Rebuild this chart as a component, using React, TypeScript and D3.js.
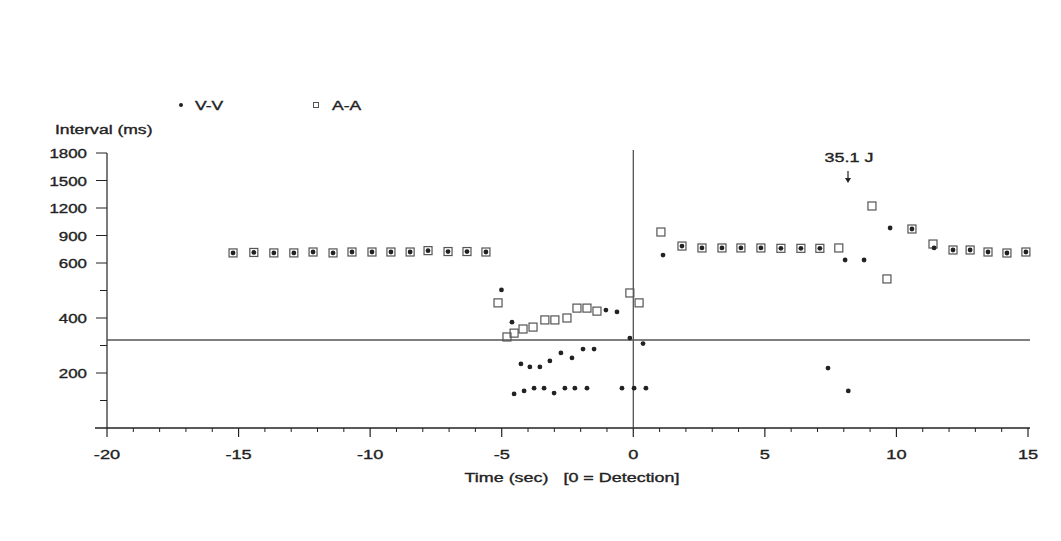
import React from "react";
import * as d3 from "d3";

// ---- Data ----
const xTicksMajor = [-20, -15, -10, -5, 0, 5, 10, 15];
const yTicksMajor = [200, 400, 600, 900, 1200, 1500, 1800];
const yTicksMinor = [100, 300, 500];
const thresholdMs = 320;

const aaTime = [
  -15.21, -14.42, -13.66, -12.9, -12.17, -11.41, -10.69, -9.93, -9.21, -8.48, -7.8, -7.04, -6.32, -5.6,
  -5.14, -4.8, -4.53, -4.19, -3.81, -3.36, -2.98, -2.52, -2.14, -1.76, -1.38, -0.13, 0.22,
  1.05, 1.85, 2.61, 3.37, 4.09, 4.85, 5.61, 6.37, 7.09, 7.81, 9.07, 9.64, 10.59, 11.39,
  12.15, 12.8, 13.48, 14.2, 14.92,
];
const aaValue = [
  710, 715, 710, 710, 720, 710, 720, 720, 720, 720, 735, 725, 725, 720,
  455, 331, 345, 360, 367, 393, 393, 400, 436, 436, 425, 491, 455,
  938, 785, 764, 764, 764, 764, 760, 760, 760, 764, 1222, 542, 971, 807,
  742, 742, 720, 709, 720,
];

const vvTime = [
  -15.21, -14.42, -13.66, -12.9, -12.17, -11.41, -10.69, -9.93, -9.21, -8.48, -7.8, -7.04, -6.32, -5.6,
  -5.01, -4.61, -4.27, -3.93, -3.55, -3.17, -2.75, -2.33, -1.91, -1.49,
  -4.53, -4.15, -3.77, -3.39, -3.01, -2.6, -2.22, -1.76, -0.43, 0.03, 0.48,
  -0.13, 0.37, -1.04, -0.62,
  1.13, 1.85, 2.61, 3.37, 4.09, 4.85, 5.61, 6.37, 7.09, 8.05, 8.77, 9.76, 10.59, 11.43,
  12.15, 12.8, 13.48, 14.2, 14.92, 7.4, 8.17,
];
const vvValue = [
  710, 715, 710, 710, 720, 710, 720, 720, 720, 720, 735, 725, 725, 720,
  502, 385, 233, 222, 222, 244, 273, 255, 287, 287,
  124, 135, 145, 145, 127, 145, 145, 145, 145, 145, 145,
  327, 307, 429, 422,
  687, 785, 764, 764, 764, 764, 760, 760, 760, 633, 633, 982, 971, 764,
  742, 742, 720, 709, 720, 218, 135,
];

const ink = "#222";
const font = "'Liberation Sans', Arial, sans-serif";

function Txt({ x, y, anchor = "start", size = 13, sx = 1.35, children }: any) {
  return (
    <text
      transform={`translate(${x},${y}) scale(${sx},1)`}
      textAnchor={anchor}
      fontSize={size}
      fontFamily={font}
      fill={ink}
      stroke={ink}
      strokeWidth={0.35}
      style={{ whiteSpace: "pre" }}
    >
      {children}
    </text>
  );
}

export default function App() {
  const x = d3.scaleLinear().domain([-20, 15]).range([107, 1028]);
  // piecewise linear y axis as in the original
  const y = d3.scaleLinear().domain([0, 600, 1800]).range([428, 263, 153]);
  const xMinor = d3.range(-20, 16, 1).filter((v) => !xTicksMajor.includes(v));

  return (
    <svg
      width={1061}
      height={541}
      style={{ position: "absolute", left: 0, top: 0, background: "#fff" }}
    >
      {/* legend */}
      <circle cx={181} cy={105} r={2} fill={ink} />
      <Txt x={195} y={110} size={12.5} sx={1.4}>V-V</Txt>
      <rect x={313.5} y={102.5} width={5} height={5} fill="none" stroke="#555" strokeWidth={1} />
      <Txt x={332} y={110} size={12.5} sx={1.4}>A-A</Txt>

      {/* y axis title */}
      <Txt x={55} y={134} size={13} sx={1.35}>Interval (ms)</Txt>

      {/* axes */}
      <line x1={107} x2={107} y1={y(1800)} y2={y(0)} stroke={ink} strokeWidth={1.2} />
      <line x1={95} x2={1030} y1={y(0)} y2={y(0)} stroke={ink} strokeWidth={1.4} />
      {yTicksMajor.map((t) => (
        <g key={"ym" + t}>
          <line x1={96} x2={107} y1={y(t)} y2={y(t)} stroke={ink} strokeWidth={1} />
          <Txt x={87} y={y(t) + 5} anchor="end" size={13} sx={1.3}>{t}</Txt>
        </g>
      ))}
      {yTicksMinor.map((t) => (
        <line key={"yn" + t} x1={100} x2={107} y1={y(t)} y2={y(t)} stroke={ink} strokeWidth={1} />
      ))}
      {xTicksMajor.map((t) => (
        <g key={"xm" + t}>
          <line x1={x(t)} x2={x(t)} y1={y(0)} y2={y(0) + 9} stroke={ink} strokeWidth={1.2} />
          <Txt x={x(t)} y={459} anchor="middle" size={13} sx={1.4}>{t}</Txt>
        </g>
      ))}
      {xMinor.map((t) => (
        <line key={"xn" + t} x1={x(t)} x2={x(t)} y1={y(0)} y2={y(0) + 4} stroke={ink} strokeWidth={1} />
      ))}
      <Txt x={572} y={482} anchor="middle" size={13} sx={1.38}>
        {"Time (sec)   [0 = Detection]"}
      </Txt>

      {/* detection line and threshold */}
      <line x1={x(0)} x2={x(0)} y1={150} y2={y(0)} stroke="#444" strokeWidth={1.2} />
      <line x1={107} x2={1030} y1={y(thresholdMs)} y2={y(thresholdMs)} stroke="#555" strokeWidth={1.6} />

      {/* A-A squares */}
      {aaTime.map((t, i) => (
        <rect
          key={"aa" + i}
          x={x(t) - 4}
          y={y(aaValue[i]) - 4}
          width={8}
          height={8}
          fill="none"
          stroke="#555"
          strokeWidth={1.2}
        />
      ))}
      {/* V-V dots */}
      {vvTime.map((t, i) => (
        <circle key={"vv" + i} cx={x(t)} cy={y(vvValue[i])} r={2.4} fill={ink} />
      ))}

      {/* shock annotation */}
      <Txt x={849} y={162} anchor="middle" size={13} sx={1.38}>35.1 J</Txt>
      <line x1={848} x2={848} y1={171} y2={181} stroke={ink} strokeWidth={1.2} />
      <path d="M845,178 L848,183 L851,178 Z" fill={ink} />
    </svg>
  );
}
